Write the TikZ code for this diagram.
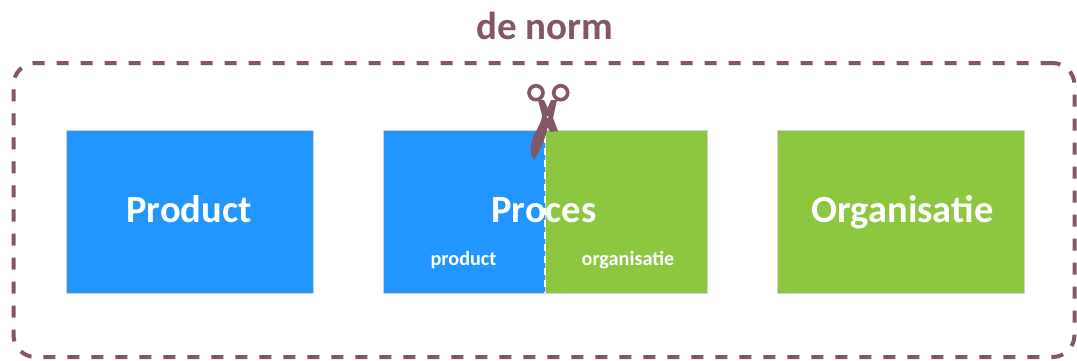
\documentclass[tikz,border=0pt]{standalone}
\usepackage{fontspec}
\setmainfont{Carlito}
\usepackage{xcolor}
\definecolor{NormPurple}{HTML}{835668}
\definecolor{ProductBlue}{HTML}{2196FF}
\definecolor{OrgGreen}{HTML}{8DC63F}
\usepackage{tikz}
\usetikzlibrary{calc,positioning}
\newcommand\BigLength{247pt}
\newcommand\Height{163pt}
\newcommand\HalfLength{162pt}
\newcommand\LabelLine{222}
\newcommand\SubLine{265}
\tikzstyle{normbox}=[rectangle,draw=gray!35,line width=0.7pt,
                     minimum height=\Height,minimum width=\BigLength,inner sep=0pt]
\tikzstyle{halfbox}=[normbox,minimum width=\HalfLength]
\tikzstyle{boxlabel}=[text=white,anchor=base,font=\bfseries\fontsize{38.5}{44}\selectfont,inner sep=0pt]
\tikzstyle{sublabel}=[text=white,anchor=base,font=\bfseries\fontsize{20.2}{24}\selectfont,inner sep=0pt]
\tikzstyle{cutline}=[draw=white,line width=2pt,dash pattern=on 7pt off 5pt]

\begin{document}
\begin{tikzpicture}[x=1pt,y=-1pt]
      \useasboundingbox (0,0) rectangle (1077,360);
      \node[rectangle,draw=NormPurple,line width=4pt,rounded corners=22pt,dash pattern=on 12pt off 12pt,
            minimum width=1061pt,minimum height=294pt] (frame) at (544,210) {};
      \node[text=NormPurple,font=\bfseries\fontsize{39}{44}\selectfont,inner sep=0pt] (title) at (545,26) {de norm};
      \node[normbox,fill=ProductBlue] (product) at (189.5,211.5) {};
      \node[halfbox,fill=ProductBlue] (procesproduct) at (464.5,211.5) {};
      \node[halfbox,fill=OrgGreen] (procesorg) at (626.5,211.5) {};
      \node[normbox,fill=OrgGreen] (organisatie) at (900.5,211.5) {};
      \coordinate (cuttop) at ($(procesorg.north west)+(0,6)$);
      \draw[cutline] (cuttop) -- (procesorg.south west);
      % scissors
      \fill[NormPurple] (538,100) -- (544,100) -- (547.7,108) -- (551,100) -- (557,100) -- (553,118)
            -- (558,131) -- (550,132) -- (547.5,127) .. controls (546,138) and (540,150) .. (534,160)
            .. controls (529,153) and (530,143) .. (535,133) .. controls (539,126) and (542,120) .. (542,115) -- cycle;
      \draw[NormPurple,line width=3.6pt] (536,92.7) circle (7);
      \draw[NormPurple,line width=3.6pt] (560.7,92.7) circle (7);
      \fill[white] (547.7,117) circle (1);
      % labels
      \node[boxlabel] (productlabel) at (189,\LabelLine) {Product};
      \node[boxlabel] (proceslabel) at (544,\LabelLine) {Proces};
      \node[boxlabel] (organisatielabel) at (902.5,\LabelLine) {Organisatie};
      \node[sublabel] (sublabelproduct) at (463.5,\SubLine) {product};
      \node[sublabel] (sublabelorg) at (628,\SubLine) {organisatie};
   \end{tikzpicture}
\end{document}
